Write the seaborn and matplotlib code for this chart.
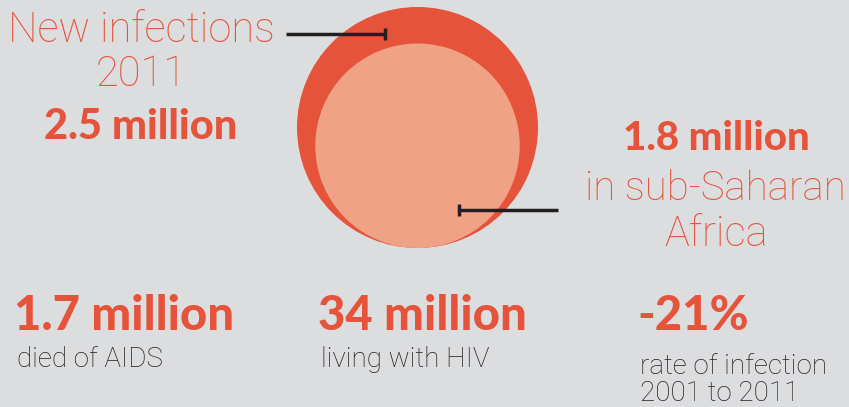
import numpy as np
import matplotlib
matplotlib.use("Agg")
import matplotlib.pyplot as plt
from matplotlib.patches import Circle
import seaborn as sns

# dados (milhões)
circle_labels = ["New infections 2011", "in sub-Saharan Africa"]
circle_values = [2.5, 1.8]
circle_colors = ["#E4533A", "#F0A285"]

stat_values = ["1.7 million", "34 million", "-21%"]
stat_labels = ["died of AIDS", "living with HIV", "rate of infection\n2001 to 2011"]

bg = "#DCDDDF"
orange = "#E4533A"
dark = "#231F20"

sns.set_theme(style="white")
plt.rcParams["font.family"] = ["Lato", "DejaVu Sans"]
fina = ["Roboto", "DejaVu Sans"]

fig = plt.figure(figsize=(8.49, 4.07), dpi=100, facecolor=bg)
ax = fig.add_axes([0, 0, 1, 1])
ax.set_facecolor(bg)
ax.set_xlim(0, 849)
ax.set_ylim(407, 0)
ax.set_aspect("equal")
ax.axis("off")

# círculos com área proporcional ao valor, alinhados pela base
escala = 120.5 / np.sqrt(max(circle_values))
base_y = 248
cx = 417.5
for val, cor in zip(circle_values, circle_colors):
    r = escala * np.sqrt(val)
    ax.add_patch(Circle((cx, base_y - r), r, color=cor, lw=0))

# linhas indicadoras
ax.plot([286, 385], [34, 34], color=dark, lw=2.5, solid_capstyle="butt")
ax.plot([385, 385], [28, 40], color=dark, lw=2.5, solid_capstyle="butt")
ax.plot([459, 558], [210, 210], color=dark, lw=2.5, solid_capstyle="butt")
ax.plot([459, 459], [204, 216], color=dark, lw=2.5, solid_capstyle="butt")

# textos à esquerda
ax.text(141, 30, "New infections", ha="center", va="center", fontsize=30,
        fontweight="light", color=orange, family=fina)
ax.text(141, 75, "2011", ha="center", va="center", fontsize=30,
        fontweight="light", color=orange, family=fina)
ax.text(141, 127, f"{circle_values[0]} million", ha="center", va="center",
        fontsize=30, fontweight="black", color=orange)

# textos à direita
ax.text(716, 138, f"{circle_values[1]} million", ha="center", va="center",
        fontsize=29, fontweight="black", color=orange)
ax.text(715, 189, "in sub-Saharan", ha="center", va="center", fontsize=29,
        fontweight="light", color=orange, family=fina)
ax.text(716, 235, "Africa", ha="center", va="center", fontsize=30,
        fontweight="light", color=orange, family=fina)

# estatísticas de baixo
xs = [14, 318, 637]
label_tops = [346, 346, 353]
for x, v, lab, ty in zip(xs, stat_values, stat_labels, label_tops):
    ax.text(x, 316, v, ha="left", va="center", fontsize=34,
            fontweight="black", color=orange)
    ax.text(x + 3, ty, lab, ha="left", va="top", fontsize=20,
            fontweight="light", color=dark, linespacing=0.98, family=fina)

fig.savefig("out.png", dpi=100, facecolor=bg)
